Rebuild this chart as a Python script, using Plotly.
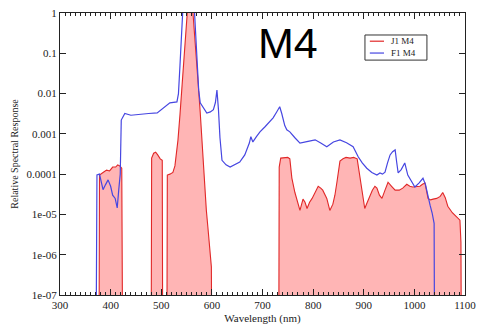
import plotly.graph_objects as go

# ---- data ----
f1_wl = [371, 373, 378, 385, 390, 395, 400, 404, 409, 413, 416, 418, 419, 421, 428, 440, 458, 475, 492, 505,
         517, 531, 534, 537, 540, 543, 565, 568, 571, 574, 577, 583, 590, 597, 603, 607, 610, 613, 616, 620,
         628, 636, 645, 655, 665, 674, 677, 681, 688, 695, 705, 713, 721, 728, 734, 738, 744, 748, 754, 764,
         774, 790, 804, 815, 827, 840, 853, 866, 879, 889, 897, 906, 916, 926, 932, 937, 942, 947, 952, 957,
         962, 965, 968, 974, 981, 987, 994, 1001, 1009, 1017, 1022, 1027, 1031, 1035, 1039, 1040]
f1_resp = [1e-9, 9.5e-5, 1.0e-4, 4.1e-5, 5.5e-5, 7.2e-5, 5.0e-5, 3.0e-5, 2.5e-5, 1.45e-5, 4e-5, 8e-5, 1.0e-4,
           2.2e-3, 3.2e-3, 2.9e-3, 3.1e-3, 3.2e-3, 3.3e-3, 4.5e-3,
           5.9e-3, 6.2e-3, 1e-2, 0.05, 0.3, 1.5, 1.5, 0.3, 0.05, 0.012, 5.9e-3, 4.5e-3, 3.3e-3, 3.5e-3, 4e-3, 6e-3,
           1.23e-2, 4e-3, 8e-4, 2.2e-4,
           1.7e-4, 1.5e-4, 1.7e-4, 2.0e-4, 3.0e-4, 5.9e-4, 8.5e-4, 6.3e-4, 8.5e-4, 1.12e-3, 1.5e-3, 1.9e-3, 2.5e-3,
           3.5e-3, 4.7e-3, 3.2e-3, 1.6e-3, 1.26e-3, 1.12e-3, 8e-4,
           5.9e-4, 6.5e-4, 7.1e-4, 5.9e-4, 4.8e-4, 6.3e-4, 7.1e-4, 6e-4, 4.8e-4, 2.7e-4, 1.9e-4, 1.4e-4, 1.1e-4,
           9.5e-5, 1.07e-4, 1.0e-4, 1.12e-4, 1.9e-4, 3.0e-4, 3.6e-4,
           4.0e-4, 2.0e-4, 1.07e-4, 1.3e-4, 1.9e-4, 9.5e-5, 6.5e-5, 4.8e-5, 6e-5, 7.9e-5, 5.5e-5, 2.7e-5, 1.7e-5,
           1.1e-5, 6e-6, 1e-9]

j1_wl = [377, 378, 385, 392, 398, 404, 410, 414, 418, 422, 424, None,
         480, 481, 485, 489, 493, 498, 502, 503, None,
         511, 512, 517, 523, 527, 530, 533, 537, 541, 545, 549, 552, 562, 565, 569, 573, 577, 580, 583, 586,
         589, 592, 595, 598, 599, 600, None,
         732, 733, 736, 744, 750, 754, 758, 764, 770, 774, 780, 784, 788, 793, 798, 804, 810, 815, 819, 827,
         833, 839, 843, 847, 850, 853, 859, 865, 873, 880, 887, 893, 898, 902, 907, 912, 917, 922, 926, 931,
         936, 942, 948, 955, 962, 970, 977, 985, 991, 997, 1004, 1011, 1016, 1021, 1027, 1032, 1037, 1044,
         1051, 1056, 1061, 1066, 1075, 1084, 1090, 1092, 1093]
j1_resp = [1e-9, 9.5e-5, 1.1e-4, 1.26e-4, 1.2e-4, 1.5e-4, 1.5e-4, 1.7e-4, 1.6e-4, 1.4e-4, 1e-9, None,
           1e-9, 2.5e-4, 3.3e-4, 3.5e-4, 3.0e-4, 2.4e-4, 2.2e-4, 1e-9, None,
           1e-9, 9.5e-5, 1.0e-4, 1.1e-4, 1.6e-4, 3e-4, 7e-4, 3e-3, 1.7e-2, 0.09, 0.45, 1.3, 1.3, 0.45, 0.09,
           0.017, 3.4e-3, 7e-4, 1.6e-4, 3.4e-5,
           1.3e-5, 5e-6, 1.9e-6, 7.4e-7, 5e-7, 1e-9, None,
           1e-9, 1.5e-4, 2.5e-4, 2.5e-4, 2.6e-4, 2.4e-4, 8e-5, 3.5e-5, 1.8e-5, 1.26e-5, 2.4e-5, 2e-5, 1.4e-5,
           2e-5, 2.5e-5, 3.5e-5, 5e-5, 4.5e-5, 4e-5, 2.5e-5,
           1.26e-5, 1.8e-5, 3e-5, 6.3e-5, 1.3e-4, 2.1e-4, 2.4e-4, 2.6e-4, 2.5e-4, 2.6e-4, 2.4e-4, 8e-5, 2.5e-5,
           1.4e-5, 2e-5, 2.8e-5, 4e-5, 5e-5, 4.5e-5, 3e-5,
           2.5e-5, 4e-5, 6.3e-5, 5e-5, 4e-5, 4e-5, 4.5e-5, 5.6e-5, 5e-5, 4.8e-5, 5e-5, 5e-5, 5.6e-5, 6e-5,
           2.5e-5, 2.3e-5, 2.4e-5, 2.5e-5,
           2.8e-5, 3.5e-5, 2.6e-5, 1.6e-5, 1.1e-5, 8.7e-6, 7.2e-6, 2e-6, 1e-9]

series_names = ["J1 M4", "F1 M4"]
series_colors = ["rgb(225,40,40)", "rgb(70,70,225)"]
y_ticks = [1e-7, 1e-6, 1e-5, 1e-4, 1e-3, 1e-2, 1e-1, 1]
y_ticktext = ["1e-07", "1e-06", "1e-05", "0.0001", "0.001", "0.01", "0.1", "1"]

serif = "Liberation Serif"

fig = go.Figure()
fig.add_trace(go.Scatter(
    x=j1_wl, y=j1_resp, name=series_names[0], mode="lines", fill="toself",
    fillcolor="rgba(255,90,90,0.45)", line=dict(color=series_colors[0], width=1.1),
    connectgaps=False, showlegend=False,
))
fig.add_trace(go.Scatter(
    x=f1_wl, y=f1_resp, name=series_names[1], mode="lines",
    line=dict(color=series_colors[1], width=1.2), showlegend=False,
))

# legend drawn as a small framed box with line samples and text labels
shapes = [dict(type="rect", xref="paper", yref="paper", x0=0.753, x1=0.906, y0=0.833, y1=0.922,
               line=dict(color="#333", width=1), fillcolor="white", layer="above")]
annotations = []
for i, (nm, col) in enumerate(zip(series_names, series_colors)):
    yy = 0.900 - i * 0.042
    shapes.append(dict(type="line", xref="paper", yref="paper", x0=0.765, x1=0.800, y0=yy, y1=yy,
                       line=dict(color=col, width=1.2), layer="above"))
    annotations.append(dict(text=nm, x=0.812, y=yy, xref="paper", yref="paper", xanchor="left",
                            yanchor="middle", showarrow=False,
                            font=dict(family=serif, size=9, color="#222")))
annotations.append(dict(text="M4", x=0.485, y=0.985, xref="paper", yref="paper",
                        xanchor="left", yanchor="top", showarrow=False,
                        font=dict(family="Liberation Sans", size=43, color="black")))

fig.update_layout(
    width=481, height=329,
    margin=dict(l=60, r=16, t=13, b=34, autoexpand=False),
    paper_bgcolor="white", plot_bgcolor="white",
    font=dict(family=serif, size=11, color="#222"),
    showlegend=False,
    shapes=shapes, annotations=annotations,
    # overlay axis that only carries the minor (2..9) log ticks on both sides
    yaxis2=dict(type="log", range=[-7, 0], overlaying="y", anchor="x", side="left",
                dtick="D1", ticks="inside", ticklen=3, tickcolor="#222", tickwidth=1,
                showticklabels=False, showgrid=False, zeroline=False, showline=False,
                mirror="allticks"),
)
fig.update_xaxes(
    range=[300, 1100], tickmode="linear", tick0=300, dtick=100,
    ticks="inside", ticklen=6, tickcolor="#222", tickwidth=1,
    minor=dict(dtick=10, ticks="inside", ticklen=3, tickcolor="#222", tickwidth=1),
    showline=True, linecolor="#222", linewidth=1, mirror="allticks",
    showgrid=False, zeroline=False,
    title=dict(text="Wavelength (nm)", font=dict(family=serif, size=11), standoff=4),
    tickfont=dict(family=serif, size=11),
)
fig.update_layout(yaxis=dict(
    type="log", range=[-7, 0], tickmode="array", tickvals=y_ticks, ticktext=y_ticktext,
    ticks="inside", ticklen=6, tickcolor="#222", tickwidth=1,
    showline=True, linecolor="#222", linewidth=1, mirror="allticks",
    showgrid=False, zeroline=False,
    title=dict(text="Relative Spectral Response", font=dict(family=serif, size=10), standoff=6),
    tickfont=dict(family=serif, size=11),
))

fig.write_html("out.html")
